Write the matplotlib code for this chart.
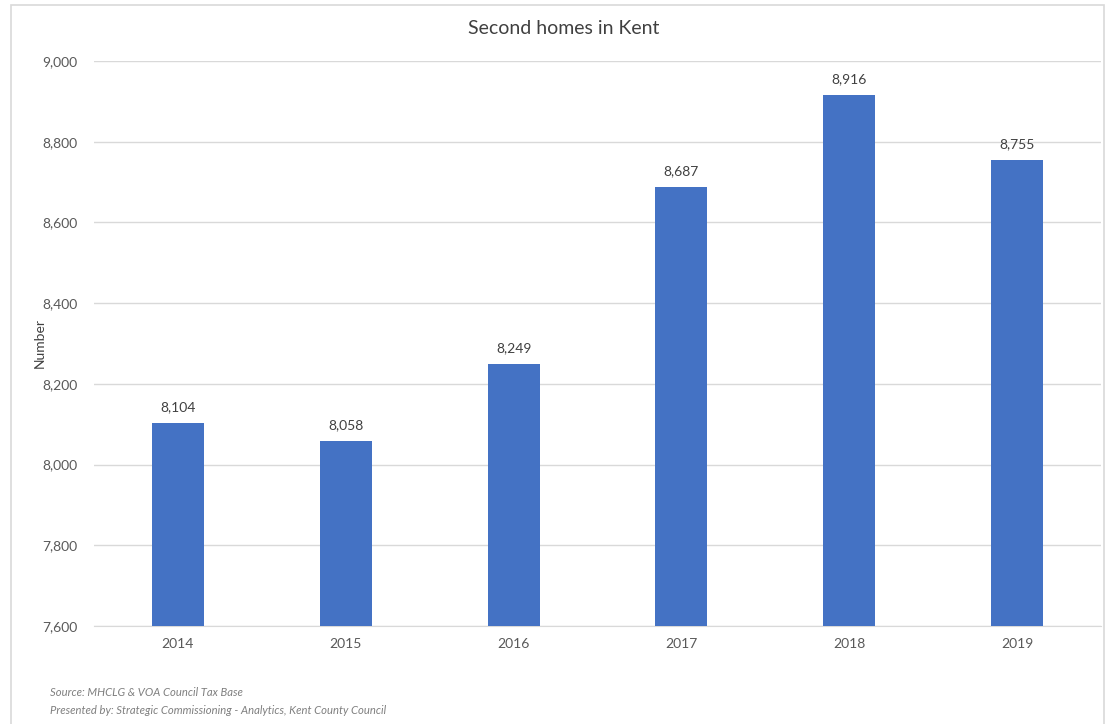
import matplotlib
matplotlib.use("Agg")
import matplotlib.pyplot as plt
from matplotlib.patches import Rectangle
from matplotlib.ticker import FuncFormatter, MultipleLocator

plt.rcParams['font.family'] = ['Lato', 'DejaVu Sans']

years = ["2014", "2015", "2016", "2017", "2018", "2019"]
second_homes = [8104, 8058, 8249, 8687, 8916, 8755]

title = "Second homes in Kent"
y_label = "Number"
source_lines = [
    "Source: MHCLG & VOA Council Tax Base",
    "Presented by: Strategic Commissioning - Analytics, Kent County Council",
]

W, H, DPI = 1108, 724, 100
fig = plt.figure(figsize=(W / DPI, H / DPI), dpi=DPI)
fig.patch.set_facecolor("white")

# Outer chart frame
fig.add_artist(Rectangle((11 / W, -0.01), (1104 - 11) / W, 1 - 5 / H + 0.01,
                         transform=fig.transFigure, fill=False,
                         edgecolor="#d9d9d9", linewidth=1.2))

ax = fig.add_axes([94 / W, 1 - 626 / H, (1101 - 94) / W, (626 - 61) / H])
x = range(len(years))
bars = ax.bar(x, second_homes, width=0.31, color="#4472c4", zorder=3)

ax.set_ylim(7600, 9000)
ax.set_xlim(-0.5, len(years) - 0.5)
ax.yaxis.set_major_locator(MultipleLocator(200))
ax.yaxis.set_major_formatter(FuncFormatter(lambda v, p: f"{int(v):,}"))
ax.set_xticks(list(x))
ax.set_xticklabels(years)
ax.grid(axis="y", color="#d9d9d9", linewidth=1, zorder=0)
for s in ["top", "right", "left"]:
    ax.spines[s].set_visible(False)
ax.spines["bottom"].set_color("#d9d9d9")
ax.tick_params(axis="both", length=0, labelsize=10, labelcolor="#595959")
ax.tick_params(axis="x", pad=9)
ax.tick_params(axis="y", pad=12)

for b, v in zip(bars, second_homes):
    ax.annotate(f"{v:,}", (b.get_x() + b.get_width() / 2, v),
                xytext=(0, 7), textcoords="offset points",
                ha="center", va="bottom", fontsize=10, color="#404040")

fig.text(564 / W, 1 - 29 / H, title, ha="center", va="center",
         fontsize=14, color="#404040")
fig.text(40 / W, 1 - 343 / H, y_label, ha="center", va="center",
         rotation=90, fontsize=10, color="#404040")

for i, line in enumerate(source_lines):
    fig.text(50 / W, 1 - (693 + 18 * i) / H, line, ha="left", va="center",
             fontsize=8.1, style="italic", color="#7f7f7f")

fig.savefig("out.png", dpi=DPI)
